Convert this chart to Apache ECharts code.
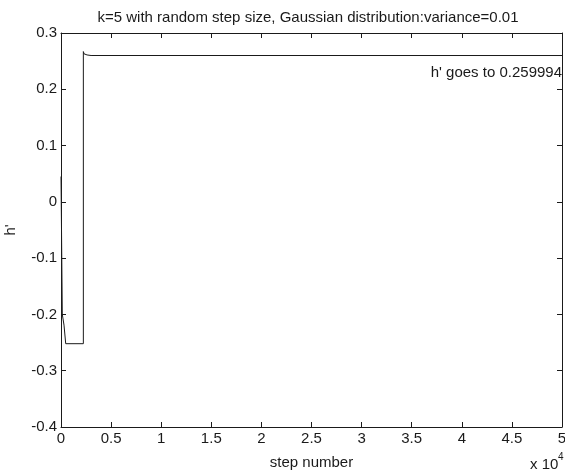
<!DOCTYPE html>
<html>
<head>
<meta charset="utf-8">
<script src="https://cdn.jsdelivr.net/npm/echarts@6/dist/echarts.min.js"></script>
<style>
  html, body { margin: 0; padding: 0; background: #fff; }
  #chart { width: 565px; height: 475px; }
</style>
</head>
<body>
<div id="chart"></div>
<script>
// Trajectory of h' against step number (steps, value)
const steps = [0, 130, 130, 300, 300, 470, 470, 2230, 2230, 2300, 2600, 3000, 50000];
const hValues = [0.045, 0.045, -0.2, -0.2, -0.219, -0.219, -0.252, -0.252, 0.267, 0.263, 0.261, 0.26, 0.259994];

const yTicks = [-0.4, -0.3, -0.2, -0.1, 0, 0.1, 0.2, 0.3];
const xTicks = [0, 0.5, 1, 1.5, 2, 2.5, 3, 3.5, 4, 4.5, 5];

const titleText = "k=5 with random step size, Gaussian distribution:variance=0.01";
const noteText = "h' goes to 0.259994";

const FONT = '"Liberation Sans", Arial, sans-serif';
const INK = '#1a1a1a';

const chart = echarts.init(document.getElementById('chart'), null, { renderer: 'canvas' });

const points = steps.map((s, i) => [s, hValues[i]]);

const fmt = v => {
  const r = Math.round(v * 10) / 10;
  return r === 0 ? '0' : String(r);
};

const boxAxisX = {
  type: 'value', min: 0, max: 50000, interval: 5000,
  axisLine: { show: true, onZero: false, lineStyle: { color: INK, width: 1 } },
  axisTick: { show: true, inside: true, length: 5, lineStyle: { color: INK } },
  splitLine: { show: false }
};
const boxAxisY = {
  type: 'value', min: -0.4, max: 0.3, interval: 0.1,
  axisLine: { show: true, onZero: false, lineStyle: { color: INK, width: 1 } },
  axisTick: { show: true, inside: true, length: 5, lineStyle: { color: INK } },
  splitLine: { show: false }
};

chart.setOption({
  animation: false,
  backgroundColor: '#fff',
  textStyle: { fontFamily: FONT },
  title: {
    text: titleText,
    left: 303, top: 5, textAlign: 'center',
    textStyle: { fontFamily: FONT, fontSize: 15, fontWeight: 'normal', color: INK }
  },
  grid: { left: 61, right: 3, top: 33, bottom: 48, containLabel: false, outerBoundsMode: 'none' },
  xAxis: [
    Object.assign({}, boxAxisX, {
      position: 'bottom',
      name: 'step number', nameLocation: 'middle', nameGap: 28,
      nameTextStyle: { fontFamily: FONT, fontSize: 15, color: INK },
      axisLabel: {
        show: true, margin: 4, fontFamily: FONT, fontSize: 15, color: INK,
        hideOverlap: false, showMaxLabel: true, showMinLabel: true,
        formatter: v => String(xTicks[Math.round(v / 5000)])
      }
    }),
    Object.assign({}, boxAxisX, { position: 'top', axisLabel: { show: false } })
  ],
  yAxis: [
    Object.assign({}, boxAxisY, {
      position: 'left',
      name: "h'", nameLocation: 'middle', nameGap: 43,
      nameTextStyle: { fontFamily: FONT, fontSize: 15, color: INK },
      axisLabel: {
        show: true, margin: 4, fontFamily: FONT, fontSize: 15, color: INK,
        formatter: v => fmt(yTicks[Math.round((v + 0.4) * 10)])
      }
    }),
    Object.assign({}, boxAxisY, { position: 'right', axisLabel: { show: false } })
  ],
  graphic: [
    {
      type: 'text', left: 530, top: 457,
      style: { text: 'x 10', font: '15px ' + FONT, fill: INK }
    },
    {
      type: 'text', left: 558, top: 452,
      style: { text: '4', font: '10px ' + FONT, fill: INK }
    },
    {
      type: 'text', right: 3, top: 65,
      style: { text: noteText, font: '15px ' + FONT, fill: INK, textAlign: 'right' }
    }
  ],
  series: [{
    type: 'line',
    data: points,
    showSymbol: false,
    symbol: 'none',
    lineStyle: { color: INK, width: 1 },
    silent: true
  }]
});
</script>
</body>
</html>
